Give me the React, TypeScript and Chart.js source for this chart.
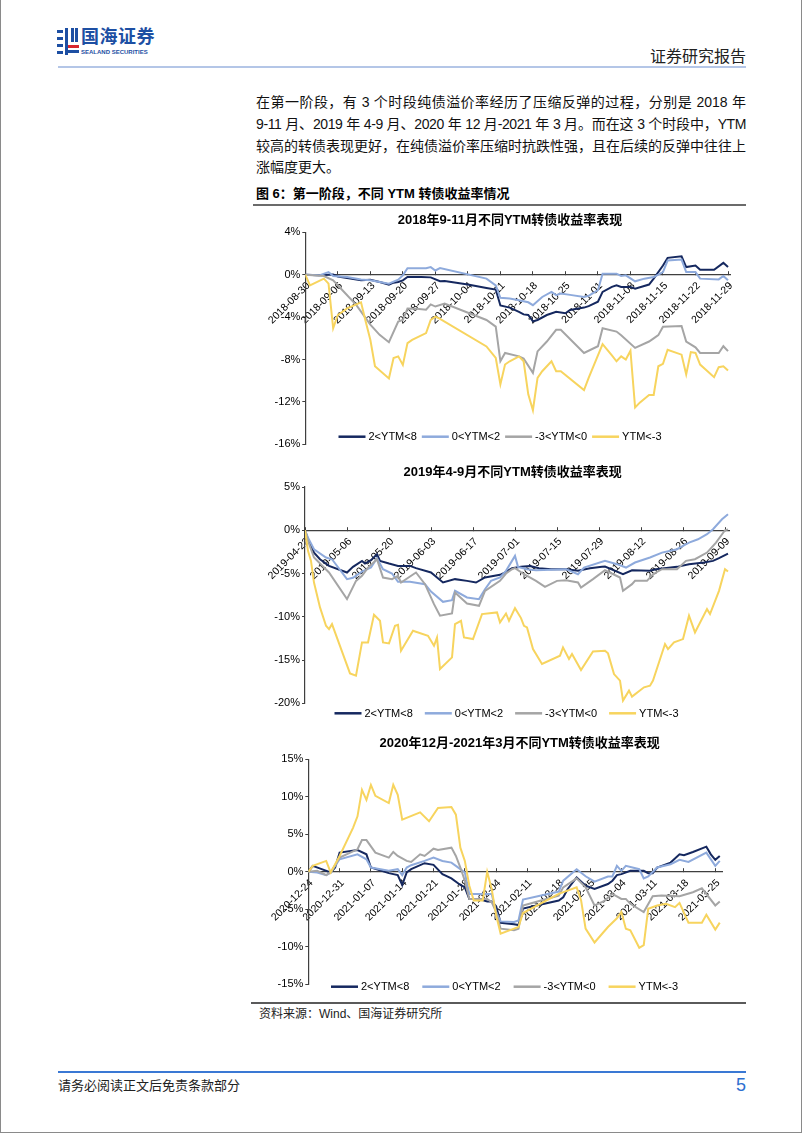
import React, { useEffect, useRef } from 'react';
import { Chart, registerables } from 'chart.js';

Chart.register(...registerables);

type Pt = [number, number];

const FONT = '"Liberation Sans", Arial, "Noto Sans CJK SC", sans-serif';
const CJK = '"Liberation Sans", Arial, "Noto Sans CJK SC", sans-serif';

const SERIES_LABELS = ['2<YTM<8', '0<YTM<2', '-3<YTM<0', 'YTM<-3'];
const SERIES_COLORS = ['#15285f', '#8eaadc', '#a5a5a5', '#f7d45e'];

// ---------- Chart 1: 2018-08-30 .. 2018-11-29 (x = calendar days from start) ----------
const c1Title = '2018年9-11月不同YTM转债收益率表现';
const c1Ticks = ['2018-08-30', '2018-09-06', '2018-09-13', '2018-09-20', '2018-09-27', '2018-10-04', '2018-10-11',
  '2018-10-18', '2018-10-25', '2018-11-01', '2018-11-08', '2018-11-15', '2018-11-22', '2018-11-29'];
const c1A: Pt[] = [[0, 0], [3, -0.06], [6, 0.03], [7, -0.16], [9, -0.3], [12, -0.53], [14, -0.47], [16, -0.69], [18, -0.93],
  [19, -0.75], [20, -0.69], [21, -0.53], [22, -0.22], [25, -0.22], [27, -0.25], [29, -0.62], [30, -0.59], [35, -0.93],
  [39, -1.25], [41, -1.4], [42, -2.9], [44, -3.1], [46, -3.5], [47, -3.74], [48, -3.8], [49, -4.4], [50, -4.27], [52, -3.8],
  [54, -3.5], [56, -3.64], [57, -3.33], [60, -3.1], [61, -2.96], [63, -2.55], [64, -1.62], [66, -1.15], [67, -1.0],
  [68, -1.15], [70, -1.15], [71, -1.31], [74, -0.93], [75, -0.37], [77, 0.87], [78, 1.59], [81, 1.74], [82, 0.72],
  [84, 0.87], [85, 0.47], [88, 0.47], [90, 1.12], [91, 0.72]];
const c1B: Pt[] = [[0, 0], [3, -0.06], [5, 0.25], [6, -0.12], [9, -0.22], [12, -0.44], [14, -0.53], [16, -0.69], [18, -0.84],
  [20, -0.47], [21, -0.06], [22, 0.62], [26, 0.62], [27, 0.72], [28, 0.4], [29, 0.62], [39, -0.37], [41, -1.0], [42, -2.18],
  [44, -2.24], [46, -2.4], [48, -2.6], [49, -2.87], [51, -2.1], [53, -1.62], [54, -1.93], [55, -1.78], [57, -1.9],
  [60, -2.1], [61, -2.0], [63, -1.46], [64, 0.1], [67, 0.1], [68, -0.12], [69, -0.06], [71, -0.62], [73, -0.37],
  [75, -0.22], [76, 0], [77, 0.25], [78, 1.34], [81, 1.43], [82, 0.25], [84, 0.25], [85, -0.37], [89, -0.44], [90, -0.12],
  [91, -0.53]];
const c1C: Pt[] = [[0, 0], [4, -0.12], [6, -0.53], [8, -1.46], [11, -2.87], [14, -4.7], [16, -5.67], [18, -6.36], [20, -4.42],
  [21, -4.27], [22, -3.18], [24, -3.2], [26, -3.3], [27, -2.8], [28, -3.0], [30, -2.71], [39, -4.27], [41, -4.9],
  [42, -8.16], [43, -7.38], [46, -7.7], [47, -7.9], [49, -9.25], [50, -7.23], [52, -6.3], [54, -5.2], [55, -5.2],
  [60, -7.38], [63, -6.74], [64, -5.05], [67, -5.36], [68, -5.7], [71, -6.9], [74, -6.3], [75, -6.0], [76, -5.7],
  [77, -4.9], [81, -4.83], [82, -6.3], [84, -6.85], [85, -7.38], [89, -7.38], [90, -6.74], [91, -7.2]];
const c1D: Pt[] = [[0, 0], [1, -1.0], [4, -0.37], [5, -0.84], [6, -5.05], [7, -3.8], [9, -3.18], [11, -2.8], [12, -2.6],
  [13, -4.42], [14, -6.14], [15, -8.63], [18, -9.78], [19, -7.85], [20, -7.7], [21, -8.5], [22, -6.45], [23, -6.14],
  [26, -5.5], [27, -4.27], [28, -3.96], [29, -4.17], [39, -6.76], [41, -7.85], [42, -10.34], [43, -8.47], [44, -8.16],
  [46, -7.7], [47, -8.16], [48, -11.28], [49, -12.78], [50, -9.72], [51, -9.1], [53, -8.16], [54, -9.1], [55, -9.1],
  [60, -10.87], [61, -9.72], [64, -6.54], [66, -7.6], [67, -8.16], [68, -7.7], [69, -8.0], [70, -7.17], [71, -12.52],
  [72, -12.06], [74, -11.34], [75, -11.34], [76, -8.63], [77, -8.4], [78, -7.07], [81, -7.54], [82, -9.4], [83, -7.3],
  [84, -7.38], [85, -8.47], [88, -9.66], [89, -8.72], [90, -8.63], [91, -9.03]];

// ---------- Chart 2: 2019-04-22 .. 2019-09-10 ----------
const c2Title = '2019年4-9月不同YTM转债收益率表现';
const c2Ticks = ['2019-04-22', '2019-05-06', '2019-05-20', '2019-06-03', '2019-06-17', '2019-07-01', '2019-07-15',
  '2019-07-29', '2019-08-12', '2019-08-26', '2019-09-09'];
const c2A: Pt[] = [[0, 0], [1, -1.04], [3, -2.58], [5, -3.35], [8, -4.12], [14, -4.88], [16, -4.23], [19, -3.54], [20, -3.85],
  [22, -3.46], [24, -2.77], [25, -3.54], [28, -3.85], [31, -4.12], [35, -4.12], [37, -4.38], [42, -4.88], [46, -6.04],
  [50, -5.65], [54, -5.85], [57, -6.04], [60, -5.46], [65, -5.15], [66, -5.0], [69, -4.38], [72, -4.23], [75, -4.12],
  [78, -4.38], [82, -4.5], [87, -4.5], [91, -4.69], [95, -4.38], [99, -4.23], [100, -4.2], [106, -5.08], [109, -4.62],
  [115, -4.69], [117, -4.5], [124, -4.23], [128, -3.92], [133, -3.73], [136, -3.54], [138, -3.23], [141, -2.69]];
const c2B: Pt[] = [[0, 0], [1, -0.85], [3, -2.19], [7, -3.15], [9, -3.35], [14, -5.65], [16, -5.5], [19, -4.77], [22, -4.3],
  [24, -3.23], [26, -4.5], [29, -5.0], [31, -5.96], [35, -5.96], [40, -6.23], [42, -7.08], [46, -8.27], [49, -8.08],
  [50, -7.0], [54, -7.77], [58, -7.96], [60, -6.81], [62, -5.85], [65, -5.46], [67, -4.69], [70, -2.96], [71, -4.23],
  [74, -4.5], [77, -4.62], [87, -4.5], [91, -5.08], [93, -4.31], [100, -3.54], [104, -3.92], [107, -4.31], [110, -3.73],
  [115, -3.15], [119, -2.58], [124, -2.19], [126, -1.81], [128, -1.42], [131, -1.04], [134, -0.46], [136, 0.12],
  [139, 1.27], [141, 1.85]];
const c2C: Pt[] = [[0, 0], [1, -1.23], [3, -3.15], [8, -4.88], [14, -7.96], [17, -5.85], [19, -5.27], [21, -4.31], [24, -3.35],
  [26, -5.46], [29, -5.65], [31, -5.27], [32, -6.04], [37, -4.88], [40, -6.23], [43, -8.54], [45, -9.88], [49, -9.62],
  [50, -7.19], [54, -8.46], [58, -8.73], [60, -7.0], [65, -5.85], [67, -5.0], [69, -4.5], [70, -4.38], [73, -5.08],
  [77, -5.85], [80, -6.54], [84, -5.85], [87, -5.77], [91, -6.04], [92, -6.62], [96, -5.65], [100, -4.62], [105, -5.46],
  [106, -7.0], [109, -6.23], [110, -5.85], [114, -5.85], [116, -5.08], [119, -4.5], [124, -4.5], [127, -3.54],
  [130, -3.35], [134, -2.58], [137, -1.42], [140, 0], [141, 0.1]];
const c2D: Pt[] = [[0, 0], [1, -2.38], [2, -3.54], [3, -6.04], [5, -8.92], [7, -11.04], [8, -11.42], [9, -10.85], [15, -16.54],
  [17, -16.8], [19, -12.96], [21, -12.96], [23, -9.77], [25, -10.46], [26, -12.96], [28, -13.08], [30, -11.04],
  [31, -10.92], [32, -13.92], [36, -11.62], [41, -12.19], [43, -13.35], [44, -12.4], [45, -16.04], [49, -14.69],
  [50, -10.85], [52, -10.46], [53, -12.38], [56, -12.58], [59, -9.69], [64, -9.5], [65, -10.65], [67, -9.62],
  [68, -10.46], [70, -9.0], [72, -10.15], [73, -11.04], [74, -11.23], [76, -13.73], [79, -15.46], [85, -14.5],
  [86, -13.54], [88, -14.88], [89, -14.31], [92, -16.15], [96, -14.0], [100, -13.92], [101, -14.23], [103, -16.62],
  [105, -17.38], [106, -19.69], [108, -18.54], [109, -19.23], [113, -18.15], [115, -17.96], [116, -17.38],
  [120, -13.15], [121, -13.73], [123, -12.96], [126, -12.58], [128, -9.88], [130, -11.81], [134, -9.12], [135, -9.69],
  [138, -7.0], [140, -4.5], [141, -4.77]];

// ---------- Chart 3: 2020-12-24 .. 2021-03-26 ----------
const c3Title = '2020年12月-2021年3月不同YTM转债收益率表现';
const c3Ticks = ['2020-12-24', '2020-12-31', '2021-01-07', '2021-01-14', '2021-01-21', '2021-01-28', '2021-02-04',
  '2021-02-11', '2021-02-18', '2021-02-25', '2021-03-04', '2021-03-11', '2021-03-18', '2021-03-25'];
const c3A: Pt[] = [[0, 0], [1, 0.79], [3, 0.35], [5, -0.09], [6, 0.57], [7, 2.56], [11, 2.9], [13, 2.33], [14, 0.57],
  [18, -0.18], [20, -0.44], [21, -1.76], [22, -0.09], [23, 0.35], [26, 1.15], [28, 0.93], [30, -0.31], [32, -0.88],
  [34, -1.76], [35, -2.07], [36, -3.61], [38, -3.61], [40, -3.96], [41, -3.96], [42, -4.6], [43, -6.8], [46, -7.0],
  [47, -7.1], [48, -4.9], [56, -3.83], [57, -3.4], [58, -2.29], [60, -0.75], [62, -1.85], [64, -2.29], [67, -1.63],
  [68, -1.19], [69, -0.44], [70, -0.31], [72, 0.13], [75, 0.13], [76, -0.18], [77, -0.18], [78, 0.57], [81, 1.23],
  [83, 2.33], [84, 2.2], [86, 2.64], [89, 3.35], [90, 2.33], [91, 1.59], [92, 2.11]];
const c3B: Pt[] = [[0, 0], [2, -0.09], [4, -0.44], [5, -0.09], [7, 1.67], [11, 2.33], [13, 1.67], [14, 0.57], [18, 0.13],
  [20, 0.35], [21, -0.44], [22, 0.57], [23, 0.88], [26, 1.45], [28, 1.89], [30, 1.45], [32, 1.23], [34, 0.35],
  [35, -0.09], [36, -2.95], [41, -2.95], [42, -5.37], [43, -6.61], [46, -6.7], [47, -6.5], [48, -3.7], [56, -2.64],
  [57, -1.19], [60, 0.35], [62, -0.6], [64, -1.32], [67, -0.62], [68, -0.62], [69, 0.79], [70, 0.13], [71, 0.79],
  [74, 0.35], [75, -0.88], [76, -0.62], [78, 0.57], [81, 1.01], [83, 1.59], [85, 1.32], [89, 2.56], [91, 0.79],
  [92, 1.45]];
const c3C: Pt[] = [[0, 0], [2, 0.13], [4, -0.44], [5, -0.09], [7, 1.89], [11, 3.0], [12, 4.23], [13, 4.23], [15, 2.56],
  [18, 1.89], [19, 2.64], [20, 2.11], [22, 1.45], [23, 1.32], [25, 2.33], [26, 2.11], [28, 3.08], [29, 2.91], [32, 3.22],
  [33, 2.11], [34, 0.57], [35, -1.19], [36, -3.61], [40, -3.61], [41, -4.05], [42, -5.37], [43, -7.58], [46, -7.8],
  [47, -7.6], [48, -4.49], [56, -3.17], [57, -2.07], [60, -0.88], [62, -2.07], [64, -4.49], [66, -3.96], [68, -2.95],
  [70, -3.61], [71, -3.61], [72, -4.27], [75, -5.37], [77, -3.26], [79, -3.17], [83, -3.26], [86, -2.73], [88, -2.2],
  [91, -4.49], [92, -3.96]];
const c3D: Pt[] = [[0, 0], [1, 0.79], [4, 1.45], [5, -0.09], [7, 2.11], [10, 5.86], [11, 7.4], [12, 10.93], [13, 9.6],
  [14, 11.59], [15, 10.13], [18, 9.16], [19, 11.59], [20, 10.26], [21, 6.96], [25, 7.93], [27, 6.74], [29, 8.5],
  [32, 8.63], [33, 7.62], [34, 3.22], [35, 1.45], [36, -1.85], [37, -3.83], [39, -3.83], [40, 0], [41, -2.29],
  [42, -5.81], [43, -8.24], [46, -7.58], [47, -7.36], [48, -5.5], [56, -2.95], [60, -2.07], [61, -3.83], [62, -7.58],
  [64, -9.43], [67, -7.36], [69, -6.2], [70, -5.37], [71, -7.58], [72, -7.8], [74, -10.13], [75, -9.78], [76, -4.93],
  [78, -4.49], [80, -4.27], [82, -4.71], [83, -4.14], [85, -6.78], [88, -6.78], [89, -5.73], [91, -7.7], [92, -6.78]];

type Spec = {
  title: string;
  ticks: string[];
  step: number;
  xMax: number;
  yMin: number;
  yMax: number;
  yStep: number;
  series: Pt[][];
  box: { left: number; top: number; width: number; height: number };
  pad: { top: number; right: number; bottom: number };
  yWidth: number;
  titlePos: [number, number];
  legend: { cx: number; dy: number; gap: number };
};

const SPEC1: Spec = {
  title: c1Title, ticks: c1Ticks, step: 7, xMax: 91.5, yMin: -16, yMax: 4, yStep: 4,
  series: [c1A, c1B, c1C, c1D],
  box: { left: 252, top: 206, width: 493, height: 247 },
  pad: { top: 26.3, right: 15.4, bottom: 8 },
  yWidth: 52.3, titlePos: [257, 14], legend: { cx: 247, dy: -7.7, gap: 5 },
};
const SPEC2: Spec = {
  title: c2Title, ticks: c2Ticks, step: 14, xMax: 141.5, yMin: -20, yMax: 5, yStep: 5,
  series: [c2A, c2B, c2C, c2D],
  box: { left: 252, top: 457, width: 493, height: 268 },
  pad: { top: 30, right: 16.5, bottom: 21.7 },
  yWidth: 52, titlePos: [259.7, 15.3], legend: { cx: 253.5, dy: 10, gap: 12 },
};
const SPEC3: Spec = {
  title: c3Title, ticks: c3Ticks, step: 7, xMax: 92.5, yMin: -15, yMax: 15, yStep: 5,
  series: [c3A, c3B, c3C, c3D],
  box: { left: 252, top: 728, width: 493, height: 272 },
  pad: { top: 31.3, right: 24, bottom: 15.7 },
  yWidth: 55.3, titlePos: [266.7, 15.3], legend: { cx: 251.5, dy: 2.4, gap: 13 },
};

const AXIS = '#3f3f3f';

function LineChart({ spec }: { spec: Spec }) {
  const ref = useRef<HTMLCanvasElement>(null);
  useEffect(() => {
    const canvas = ref.current;
    if (!canvas) return;
    const decor = {
      id: 'decor',
      afterDraw(chart: any) {
        const ctx = chart.ctx as CanvasRenderingContext2D;
        ctx.save();
        ctx.fillStyle = '#000';
        ctx.textBaseline = 'middle';
        ctx.textAlign = 'center';
        ctx.font = `bold 13px ${CJK}`;
        ctx.fillText(spec.title, spec.titlePos[0], spec.titlePos[1]);
        ctx.font = `11px ${FONT}`;
        const items = chart.data.datasets.map((ds: any) => ({
          label: ds.label as string,
          color: ds.borderColor as string,
          w: ctx.measureText(ds.label).width,
        }));
        const lineLen = 27;
        const tgap = 3;
        const total = items.reduce((a: number, it: any) => a + lineLen + tgap + it.w, 0) + spec.legend.gap * (items.length - 1);
        let x = spec.legend.cx - total / 2;
        const y = chart.chartArea.bottom + spec.legend.dy;
        ctx.textAlign = 'left';
        for (const it of items) {
          ctx.strokeStyle = it.color;
          ctx.lineWidth = 2.5;
          ctx.beginPath();
          ctx.moveTo(x, y);
          ctx.lineTo(x + lineLen, y);
          ctx.stroke();
          x += lineLen + tgap;
          ctx.fillStyle = '#000';
          ctx.fillText(it.label, x, y + 0.5);
          x += it.w + spec.legend.gap;
        }
        ctx.restore();
      },
    };
    const chart = new Chart(canvas, {
      type: 'line',
      data: {
        datasets: spec.series.map((pts, i) => ({
          label: SERIES_LABELS[i],
          data: pts.map(([x, y]) => ({ x, y })),
          borderColor: SERIES_COLORS[i],
          backgroundColor: SERIES_COLORS[i],
          borderWidth: 2,
          pointRadius: 0,
          fill: false,
          tension: 0,
          order: 3 - i,
        })),
      },
      options: {
        animation: false,
        responsive: false,
        maintainAspectRatio: false,
        devicePixelRatio: 1,
        layout: { padding: { left: 0, top: spec.pad.top, right: spec.pad.right, bottom: spec.pad.bottom } },
        plugins: { legend: { display: false }, tooltip: { enabled: false }, title: { display: false } },
        scales: {
          x: {
            type: 'linear',
            min: 0,
            max: spec.xMax,
            position: { y: 0 } as any,
            afterBuildTicks: (s: any) => {
              s.ticks = spec.ticks.map((_, i) => ({ value: i * spec.step }));
            },
            ticks: {
              autoSkip: false,
              minRotation: 45,
              maxRotation: 45,
              padding: 9,
              labelOffset: 3,
              color: '#000',
              font: { size: 10.5, family: FONT },
              callback: (v: any) => spec.ticks[Math.round(Number(v) / spec.step)] ?? '',
            },
            grid: { display: true, drawOnChartArea: false, drawTicks: true, tickLength: -4, color: AXIS, lineWidth: 1 },
            border: { display: true, color: AXIS, width: 1.2 },
          },
          y: {
            type: 'linear',
            min: spec.yMin,
            max: spec.yMax,
            afterFit: (s: any) => {
              s.width = spec.yWidth;
            },
            ticks: {
              stepSize: spec.yStep,
              padding: 2,
              color: '#000',
              font: { size: 11, family: FONT },
              callback: (v: any) => `${v}%`,
            },
            grid: { display: true, drawOnChartArea: false, drawTicks: true, tickLength: 3, color: AXIS },
            border: { display: true, color: AXIS, width: 1.2 },
          },
        },
      },
      plugins: [decor],
    } as any);
    return () => chart.destroy();
  }, [spec]);
  return (
    <canvas
      ref={ref}
      width={spec.box.width}
      height={spec.box.height}
      style={{ position: 'absolute', left: spec.box.left, top: spec.box.top, width: spec.box.width, height: spec.box.height }}
    />
  );
}

const paraLines = [
  '在第一阶段，有 3 个时段纯债溢价率经历了压缩反弹的过程，分别是 2018 年',
  '9-11 月、2019 年 4-9 月、2020 年 12 月-2021 年 3 月。而在这 3 个时段中，YTM',
  '较高的转债表现更好，在纯债溢价率压缩时抗跌性强，且在后续的反弹中往往上',
  '涨幅度更大。',
];

export default function App() {
  const abs = (l: number, t: number, extra: React.CSSProperties = {}): React.CSSProperties => ({
    position: 'absolute', left: l, top: t, ...extra,
  });
  return (
    <div
      style={{
        position: 'absolute', left: 0, top: 0, width: 802, height: 1133, background: '#fff', overflow: 'hidden',
        fontFamily: CJK, color: '#000', boxSizing: 'border-box',
        borderLeft: '1px solid #8a8a8a', borderRight: '1px solid #8a8a8a', borderBottom: '1px solid #8a8a8a',
      }}
    >
      {/* Logo */}
      <svg style={abs(56, 28)} width={22} height={27} viewBox="0 0 22 27">
        <rect x={0} y={2} width={6} height={3} fill="#1d4fa3" />
        <rect x={0} y={9} width={6} height={3} fill="#1d4fa3" />
        <rect x={0} y={16} width={6} height={3} fill="#1d4fa3" />
        <rect x={0} y={23} width={6} height={3} fill="#1d4fa3" />
        <rect x={8} y={0} width={3} height={27} fill="#1d4fa3" />
        <rect x={14} y={0} width={3} height={14} fill="#1d4fa3" />
        <rect x={18} y={0} width={3} height={14} fill="#1d4fa3" />
        <rect x={11} y={17} width={11} height={3} fill="#d7262e" />
        <rect x={11} y={22} width={11} height={3} fill="#1d4fa3" />
      </svg>
      <div style={abs(80, 26, { fontSize: 18, fontWeight: 700, color: '#1d4fa3', letterSpacing: 0.5, lineHeight: '22px' })}>国海证券</div>
      <div style={abs(80, 48, { fontSize: 6, fontWeight: 700, color: '#1d4fa3', lineHeight: '8px', fontFamily: FONT, whiteSpace: 'nowrap' })}>
        SEALAND SECURITIES
      </div>
      <div style={abs(545, 47, { width: 200, textAlign: 'right', fontSize: 16, lineHeight: '20px', color: '#222' })}>证券研究报告</div>
      <div style={abs(57, 66, { width: 688, height: 2, background: '#b4c6e7' })} />

      {/* Paragraph */}
      {paraLines.map((t, i) => (
        <div
          key={i}
          style={abs(255, 91 + i * 21.8, {
            width: 490, height: 22, fontSize: 14, lineHeight: '22px', whiteSpace: 'nowrap',
            textAlign: i < 3 ? 'justify' : 'left', textAlignLast: i < 3 ? 'justify' : 'left',
            letterSpacing: i === 1 ? -0.4 : 0, color: '#111',
          } as React.CSSProperties)}
        >
          {t}
        </div>
      ))}

      <div style={abs(255, 185, { fontSize: 13, fontWeight: 700, lineHeight: '18px', whiteSpace: 'nowrap' })}>
        图 6：第一阶段，不同 YTM 转债收益率情况
      </div>
      <div style={abs(252, 204, { width: 493, height: 2, background: '#6b6b6b' })} />

      <LineChart spec={SPEC1} />
      <LineChart spec={SPEC2} />
      <LineChart spec={SPEC3} />

      <div style={abs(250, 1002, { width: 495, height: 2, background: '#5a5a5a' })} />
      <div style={abs(258, 1006, { fontSize: 12, lineHeight: '16px', color: '#222', whiteSpace: 'nowrap' })}>资料来源：Wind、国海证券研究所</div>

      <div style={abs(57, 1071, { width: 688, height: 2, background: '#3a78d4' })} />
      <div style={abs(57, 1077, { fontSize: 13, lineHeight: '17px', color: '#222', whiteSpace: 'nowrap' })}>请务必阅读正文后免责条款部分</div>
      <div style={abs(700, 1074, { width: 45, textAlign: 'right', fontSize: 18, lineHeight: '22px', color: '#2f6fd0', fontFamily: FONT })}>5</div>
    </div>
  );
}
